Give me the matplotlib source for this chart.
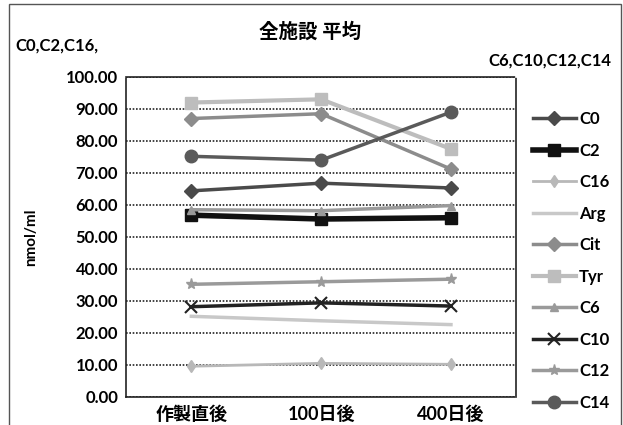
import matplotlib.pyplot as plt
from matplotlib.patches import Rectangle

plt.rcParams['font.family'] = ['Lato', 'Noto Sans CJK JP', 'DejaVu Sans']
plt.rcParams['font.weight'] = 'bold'

# 測定時点
timepoints = ['作製直後', '100日後', '400日後']

# 各項目の平均値 (nmol/ml)
c0 = [64.4, 66.8, 65.3]
c2 = [56.8, 55.6, 56.0]
c16 = [9.6, 10.5, 10.2]
arg = [25.2, 23.8, 22.6]
cit = [87.0, 88.5, 71.2]
tyr = [92.0, 93.0, 77.5]
c6 = [58.5, 58.2, 59.8]
c10 = [28.2, 29.4, 28.4]
c12 = [35.2, 36.0, 36.8]
c14 = [75.2, 74.0, 89.0]

series = [
    ('C0', c0, '#4a4a4a', 'D', 7, 2.5),
    ('C2', c2, '#111111', 's', 8, 4.0),
    ('C16', c16, '#b8b8b8', 'd', 6, 2.0),
    ('Arg', arg, '#c8c8c8', '', 0, 2.5),
    ('Cit', cit, '#8c8c8c', 'D', 7, 2.5),
    ('Tyr', tyr, '#bdbdbd', 's', 8, 3.0),
    ('C6', c6, '#9a9a9a', '^', 6, 2.5),
    ('C10', c10, '#222222', 'x', 8, 2.5),
    ('C12', c12, '#9a9a9a', '*', 8, 2.5),
    ('C14', c14, '#5a5a5a', 'o', 9, 2.5),
]

fig = plt.figure(figsize=(6.23, 4.25), dpi=100)
ax = fig.add_axes([0.203, 0.066, 0.625, 0.753])

x = range(len(timepoints))
for name, vals, color, marker, ms, lw in series:
    ax.plot(x, vals, color=color, marker=marker, markersize=ms, linewidth=lw,
            markeredgewidth=1.5 if marker == 'x' else 1, label=name)

ax.set_xlim(-0.5, 2.5)
ax.set_ylim(0, 100)
ax.set_yticks(range(0, 101, 10))
ax.set_yticklabels([f'{v:.2f}' for v in range(0, 101, 10)], fontsize=12)
ax.set_xticks(list(x))
ax.set_xticklabels(timepoints, fontsize=13)
ax.tick_params(length=0, pad=6)
ax.grid(axis='y', color='#222222', linestyle=(0, (1, 1)), linewidth=1.2)
for s in ax.spines.values():
    s.set_linestyle((0, (1, 1)))
    s.set_color('#222222')
    s.set_linewidth(1.2)
ax.set_axisbelow(True)

ax.set_ylabel('nmol/ml', fontsize=11, fontweight='bold', labelpad=20)

leg = ax.legend(loc='center left', bbox_to_anchor=(1.0, 0.425), frameon=False,
                fontsize=12, handlelength=2.6, handletextpad=0.2,
                labelspacing=0.93, borderaxespad=0.6)

fig.text(0.497, 0.928, '全施設 平均', ha='center', va='center', fontsize=14)
fig.text(0.024, 0.893, 'C0,C2,C16,', ha='left', va='center', fontsize=12)
fig.text(0.982, 0.858, 'C6,C10,C12,C14', ha='right', va='center', fontsize=12)

# 外枠
fig.patches.append(Rectangle((0.014, -0.01), 0.982, 1.0, transform=fig.transFigure,
                             fill=False, edgecolor='#555555', linewidth=1.0))

fig.savefig('out.png', dpi=100)
